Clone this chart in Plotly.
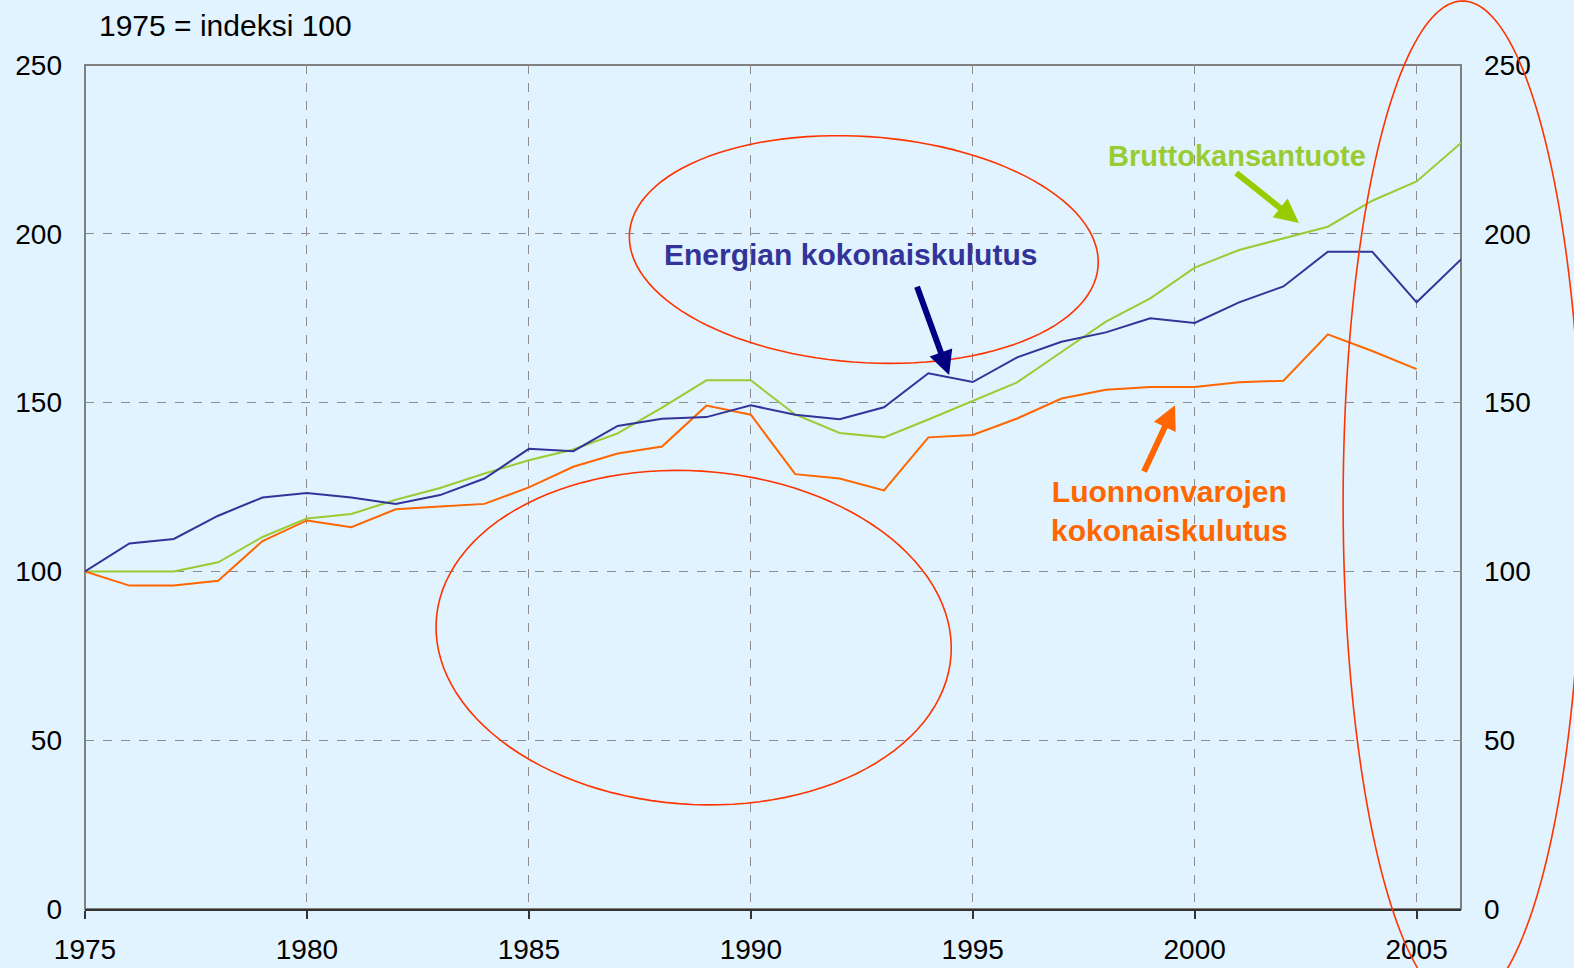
import numpy as np
import plotly.graph_objects as go

# ---------------- data ----------------
years = list(range(1975, 2007))
energia = [100, 108.3, 109.6, 116.5, 121.9, 123.2, 121.9, 120.0, 122.6, 127.5,
           136.3, 135.6, 143.1, 145.2, 145.7, 149.2, 146.4, 145.1, 148.6, 158.7,
           156.1, 163.4, 168.0, 170.8, 175.0, 173.6, 179.7, 184.4, 194.7, 194.7,
           179.7, 192.4]
bkt = [100, 100, 100, 102.7, 110.2, 115.7, 117.0, 121.2, 124.7, 129.0,
       132.9, 136.1, 140.9, 148.5, 156.6, 156.6, 146.5, 141.0, 139.7, 145.0,
       150.4, 156.0, 165.0, 174.0, 180.9, 190.0, 195.2, 198.6, 202.1, 209.8,
       215.5, 226.9]
luonnonvarat = [100, 95.8, 95.8, 97.2, 109.0, 115.1, 113.1, 118.4, 119.2, 120.0,
                124.9, 131.0, 134.9, 137.0, 149.1, 146.4, 128.8, 127.5, 124.0, 139.7,
                140.4, 145.3, 151.2, 153.8, 154.6, 154.6, 156.0, 156.5, 170.2, 165.3,
                159.9, None]
x_ticks = [1975, 1980, 1985, 1990, 1995, 2000, 2005]
y_ticks = [0, 50, 100, 150, 200, 250]

# ---------------- layout geometry ----------------
FW, FH = 1574, 968
ML, MR, MT, MB = 85, 113, 65, 59
PW, PH = FW - ML - MR, FH - MT - MB
SX, SY = 1574 / 1568, 968 / 964

def px(x):
    return (np.asarray(x) * SX - ML) / PW

def py(y):
    return (MT + PH - np.asarray(y) * SY) / PH

def ellipse_path(cx, cy, a, b, rot_deg, n=120):
    t = np.linspace(0, 2 * np.pi, n)
    r = np.deg2rad(rot_deg)
    xs = cx + a * np.cos(t) * np.cos(r) - b * np.sin(t) * np.sin(r)
    ys = cy + a * np.cos(t) * np.sin(r) + b * np.sin(t) * np.cos(r)
    X, Y = px(xs), py(ys)
    pts = " L".join(f"{u:.5f},{v:.5f}" for u, v in zip(X, Y))
    return "M" + pts + " Z"

FONT = "Liberation Sans, Arial, sans-serif"
BLUE, GREEN, ORANGE = "#333399", "#99CC33", "#FF6600"
BG = "#E0F3FE"
RED = "#FF3300"

fig = go.Figure()
fig.add_trace(go.Scatter(x=years, y=bkt, mode="lines", line=dict(color=GREEN, width=2),
                         name="Bruttokansantuote"))
fig.add_trace(go.Scatter(x=years, y=luonnonvarat, mode="lines", line=dict(color=ORANGE, width=2),
                         name="Luonnonvarojen kokonaiskulutus"))
fig.add_trace(go.Scatter(x=years, y=energia, mode="lines", line=dict(color=BLUE, width=2),
                         name="Energian kokonaiskulutus"))
# helper trace so the right-hand axis is drawn
fig.add_trace(go.Scatter(x=years, y=energia, mode="lines", yaxis="y2", opacity=0,
                         hoverinfo="skip", showlegend=False, line=dict(width=0)))

shapes = [
    dict(type="rect", xref="paper", yref="paper", x0=0, x1=1, y0=0, y1=1,
         line=dict(color="#808080", width=2), layer="between"),
    dict(type="path", xref="paper", yref="paper", path=ellipse_path(860.5, 248.5, 234, 112.5, 4),
         line=dict(color=RED, width=1.6)),
    dict(type="path", xref="paper", yref="paper", path=ellipse_path(691, 635, 257, 166, 4),
         line=dict(color=RED, width=1.6)),
    dict(type="path", xref="paper", yref="paper", path=ellipse_path(1457, 501, 119, 500, 0, 200),
         line=dict(color=RED, width=1.6)),
]

def arrow(tail, head, color):
    return dict(xref="paper", yref="paper", x=float(px(head[0])), y=float(py(head[1])),
                ax=(tail[0] - head[0]) * SX, ay=(tail[1] - head[1]) * SY,
                axref="pixel", ayref="pixel", text="", showarrow=True,
                arrowhead=2, arrowsize=0.8, arrowwidth=6, arrowcolor=color,
                standoff=0, startstandoff=0)

annotations = [
    dict(xref="paper", yref="paper", x=float(px(97)), y=float(py(25)), text="1975 = indeksi 100",
         showarrow=False, xanchor="left", yanchor="middle", font=dict(size=30, color="black", family=FONT)),
    dict(xref="paper", yref="paper", x=float(px(847.5)), y=float(py(253)), text="<b>Energian kokonaiskulutus</b>",
         showarrow=False, xanchor="center", yanchor="middle", font=dict(size=30, color=BLUE, family=FONT)),
    dict(xref="paper", yref="paper", x=float(px(1232.5)), y=float(py(155)), text="<b>Bruttokansantuote</b>",
         showarrow=False, xanchor="center", yanchor="middle", font=dict(size=29, color=GREEN, family=FONT)),
    dict(xref="paper", yref="paper", x=float(px(1165)), y=float(py(509)),
         text="<b>Luonnonvarojen<br>kokonaiskulutus</b>",
         showarrow=False, xanchor="center", yanchor="middle", align="center",
         font=dict(size=30, color=ORANGE, family=FONT)),
    arrow((913, 284), (945.5, 373.5), "#000080"),
    arrow((1230, 171), (1294, 222), "#99CC00"),
    arrow((1139, 471), (1170.5, 403.5), ORANGE),
]

fig.update_layout(
    width=FW, height=FH,
    margin=dict(l=ML, r=MR, t=MT, b=MB, pad=0, autoexpand=False),
    paper_bgcolor=BG, plot_bgcolor=BG,
    showlegend=False,
    font=dict(family=FONT, size=28, color="black"),
    shapes=shapes,
    annotations=annotations,
    xaxis=dict(range=[1975, 2006], tickvals=x_ticks, ticktext=[str(v) for v in x_ticks],
               showgrid=True, gridcolor="#8C8C8C", griddash="dash", gridwidth=1,
               showline=True, linecolor="#333333", linewidth=2,
               ticks="outside", ticklen=8, tickwidth=1.5, tickcolor="#333333",
               ticklabelstandoff=6, automargin=False,
               zeroline=False, tickfont=dict(size=28, family=FONT, color="black")),
    yaxis=dict(range=[0, 250], tickvals=y_ticks, showgrid=True, gridcolor="#8C8C8C",
               griddash="dash", gridwidth=1, zeroline=False, showline=False,
               ticks="", ticklabelstandoff=22, automargin=False,
               tickfont=dict(size=28, family=FONT, color="black")),
    yaxis2=dict(range=[0, 250], tickvals=y_ticks, overlaying="y", side="right",
                showgrid=False, zeroline=False, showline=False, ticks="", ticklabelstandoff=22,
                automargin=False,
                tickfont=dict(size=28, family=FONT, color="black")),
)

fig.write_html("out.html", config={"displayModeBar": False},
               post_script="document.body.style.margin='0px';document.body.style.overflow='hidden';")
